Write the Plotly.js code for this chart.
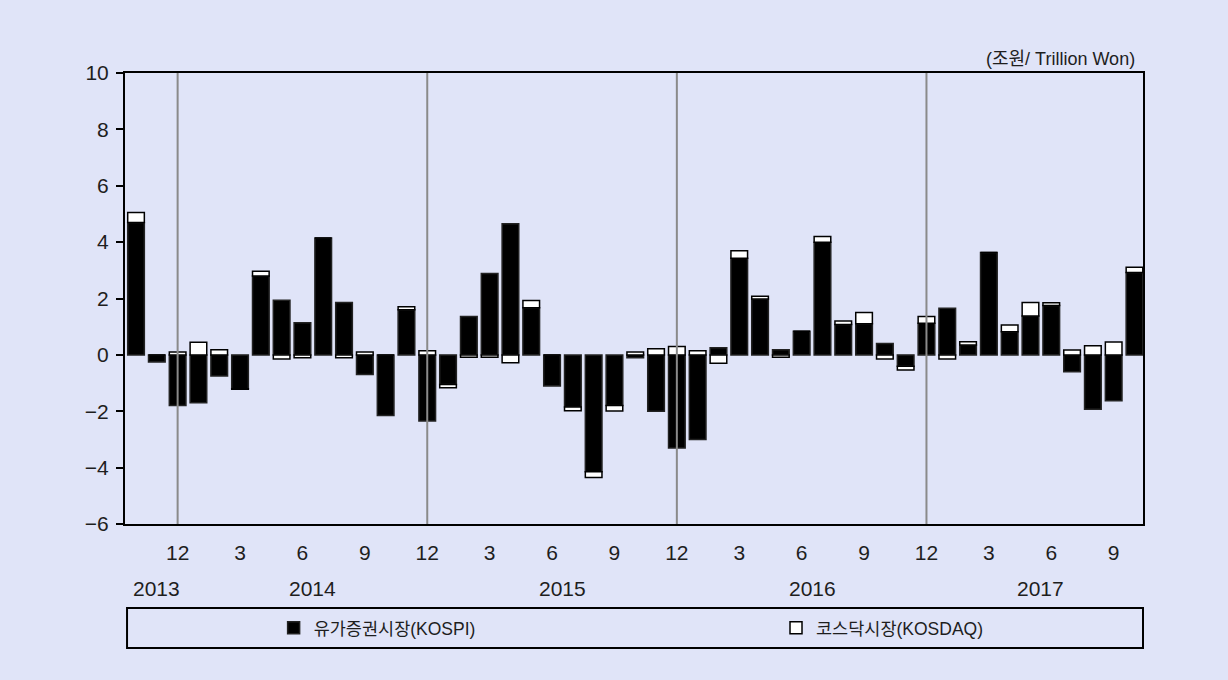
<!DOCTYPE html>
<html>
<head>
<meta charset="utf-8">
<script src="https://cdn.plot.ly/plotly-3.0.1.min.js"></script>
<style>
html,body{margin:0;padding:0;background:#E0E4F8;}
#chart{width:1228px;height:680px;}
</style>
</head>
<body>
<div id="chart"></div>
<script>
// Period: Oct 2013 – Oct 2017 (monthly)
const years  = [2013,2013,2013,
  2014,2014,2014,2014,2014,2014,2014,2014,2014,2014,2014,2014,
  2015,2015,2015,2015,2015,2015,2015,2015,2015,2015,2015,2015,
  2016,2016,2016,2016,2016,2016,2016,2016,2016,2016,2016,2016,
  2017,2017,2017,2017,2017,2017,2017,2017,2017,2017];
const months = [10,11,12,
  1,2,3,4,5,6,7,8,9,10,11,12,
  1,2,3,4,5,6,7,8,9,10,11,12,
  1,2,3,4,5,6,7,8,9,10,11,12,
  1,2,3,4,5,6,7,8,9,10];

// 유가증권시장 (KOSPI), 조원
const kospi = [4.7,-0.25,-1.8,
  -1.7,-0.75,-1.2,2.8,1.94,1.14,4.15,1.86,-0.7,-2.15,1.6,-2.35,
  -1.05,1.36,2.89,4.65,1.67,-1.1,-1.85,-4.15,-1.8,-0.1,-2.0,-3.3,
  -3.0,0.25,3.43,1.98,0.18,0.84,4.0,1.08,1.1,0.4,-0.4,1.12,
  1.65,0.35,3.63,0.82,1.38,1.75,-0.6,-1.93,-1.63,2.92];
// 코스닥시장 (KOSDAQ), 조원
const kosdaq = [0.35,0,0.1,
  0.45,0.18,-0.02,0.17,-0.15,-0.1,0,-0.1,0.1,0,0.11,0.15,
  -0.12,-0.08,-0.08,-0.28,0.26,0,-0.13,-0.2,-0.19,0.1,0.22,0.3,
  0.15,-0.3,0.26,0.1,-0.08,0,0.2,0.12,0.4,-0.15,-0.14,0.24,
  -0.15,0.12,0,0.24,0.48,0.1,0.17,0.32,0.46,0.19];

const seriesNames = ['유가증권시장(KOSPI)','코스닥시장(KOSDAQ)'];
const unitLabel = '(조원/ Trillion Won)';
const tickMonths = [12,3,6,9];

const FONT = 'Liberation Sans, Arial, "Noto Sans CJK KR", sans-serif';
const TXT = '#1e1e1e';
const idx = months.map((m,i)=>i);

const tickvals = idx.filter(i=>tickMonths.includes(months[i]));
const ticktext = tickvals.map(i=>String(months[i]));

const decIdx = idx.filter(i=>months[i]===12);
const uniqYears = [...new Set(years)];

const shapes = decIdx.map(i=>({
  type:'line', xref:'x', yref:'paper', x0:i, x1:i, y0:0, y1:1,
  line:{color:'#8a8a8a', width:2}, layer:'above'
}));
// legend frame
shapes.push({type:'rect', xref:'paper', yref:'paper', x0:0.002, x1:1, y0:-0.275, y1:-0.186,
  line:{color:'#000', width:2}, fillcolor:'rgba(0,0,0,0)'});

const annotations = uniqYears.map(y=>{
  const ii = idx.filter(i=>years[i]===y);
  const c = ii.reduce((a,b)=>a+b,0)/ii.length;
  return {x:c, xref:'x', y:-0.144, yref:'paper', text:String(y), showarrow:false,
    xanchor:'center', yanchor:'middle', font:{family:FONT, size:21, color:TXT}};
});
annotations.push({x:0.994, xref:'paper', y:1.03, yref:'paper', text:unitLabel, showarrow:false,
  xanchor:'right', yanchor:'middle', font:{family:FONT, size:18, color:TXT}});

const traces = [
  {type:'bar', x:idx, y:kospi, name:seriesNames[0], width:0.8, legend:'legend',
   marker:{color:'#000', line:{color:'#222', width:1.5}}},
  {type:'bar', x:idx, y:kosdaq, name:seriesNames[1], width:0.8, legend:'legend2',
   marker:{color:'#fff', line:{color:'#000', width:1.5}}}
];

const legendBase = {orientation:'h', xanchor:'left', y:-0.2305, yanchor:'middle',
  bgcolor:'rgba(0,0,0,0)', font:{family:FONT, size:17.5, color:TXT}};

const layout = {
  width:1228, height:680,
  margin:{l:125, r:85, t:73, b:156},
  paper_bgcolor:'#E0E4F8', plot_bgcolor:'#E0E4F8',
  barmode:'relative',
  showlegend:true,
  legend:Object.assign({x:0.146}, legendBase),
  legend2:Object.assign({x:0.6395}, legendBase),
  xaxis:{range:[-0.53,48.41], tickvals:tickvals, ticktext:ticktext, ticks:'',
    showgrid:false, zeroline:false, showline:true, mirror:true, linecolor:'#000', linewidth:2,
    ticklabelstandoff:9, tickfont:{family:FONT, size:21, color:TXT}},
  yaxis:{range:[-6,10], dtick:2, tick0:0, ticks:'outside', ticklen:7, tickwidth:2, tickcolor:'#000',
    showgrid:false, zeroline:false, showline:true, mirror:true, linecolor:'#000', linewidth:2,
    ticklabelstandoff:3, tickfont:{family:FONT, size:21, color:TXT}},
  shapes:shapes,
  annotations:annotations
};

Plotly.newPlot('chart', traces, layout, {displayModeBar:false, staticPlot:true});
</script>
</body>
</html>
